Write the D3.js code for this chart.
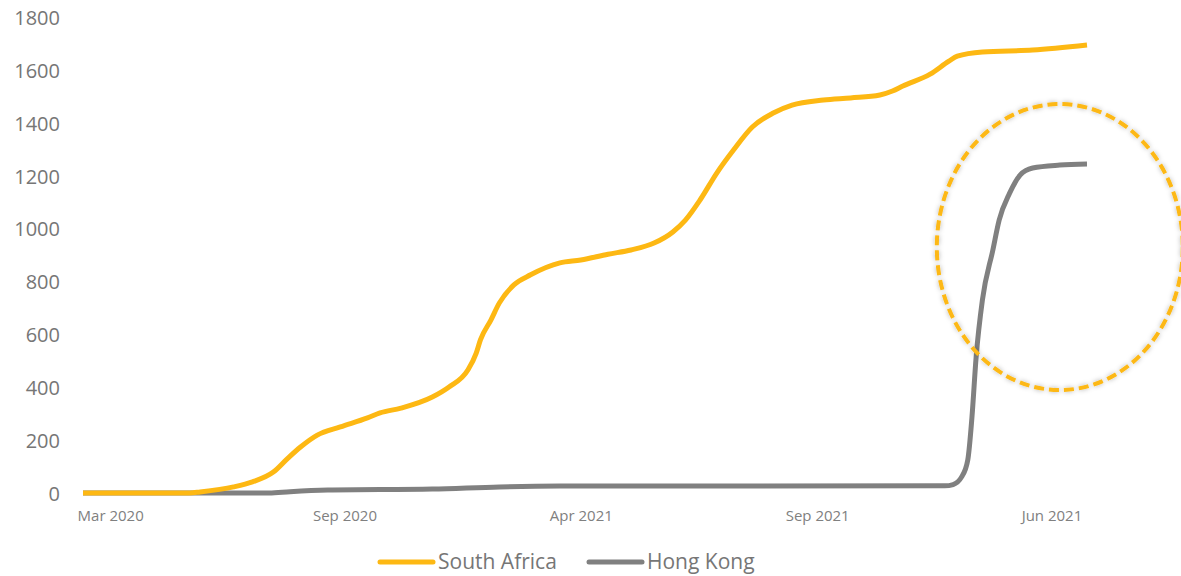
<!DOCTYPE html>
<html>
<head>
<meta charset="utf-8">
<script src="https://d3js.org/d3.v7.min.js"></script>
<style>
	body { margin: 0; background: #fff; }
	text { font-family: "Open Sans", sans-serif; fill: #767676; }
</style>
</head>
<body>
<script>
/*day index since start of series (x) and cumulative count (y)*/
var saDays = [0, 51, 56, 72, 81, 91, 98, 104, 112, 123, 136, 142, 152, 167, 175, 184, 188, 190, 195, 199, 206, 214, 228, 238, 251, 262, 273, 282, 288, 295, 303, 311, 320, 330, 339, 354, 367, 381, 387, 392, 405, 414, 418, 430, 454, 480];
var saValues = [0, 0, 4, 23, 42, 79, 132, 174, 219, 250, 284, 303, 321, 363, 401, 465, 529, 579, 654, 718, 787, 825, 870, 881, 903, 919, 945, 987, 1032, 1108, 1210, 1297, 1384, 1437, 1467, 1486, 1494, 1505, 1520, 1539, 1584, 1633, 1652, 1668, 1675, 1694];

var hkDays = [0, 89, 99, 117, 167, 199, 228, 412, 416, 420, 423, 425, 427, 430, 435, 438, 443, 448, 454, 467, 480];
var hkValues = [0, 0, 5, 11, 15, 23, 26, 27, 32, 60, 125, 287, 514, 730, 919, 1032, 1134, 1202, 1229, 1240, 1244];

/*x tick labels and their day positions (labels kept as they appear)*/
var tickDays = [13, 125, 238, 351, 463];
var tickLabels = ["Mar 2020", "Sep 2020", "Apr 2021", "Sep 2021", "Jun 2021"];
var yTicks = [0, 200, 400, 600, 800, 1000, 1200, 1400, 1600, 1800];

var seriesNames = ["South Africa", "Hong Kong"];
var seriesColors = ["#FDB813", "#808080"];

var svgWidth = 1181;
var svgHeight = 576;

var svg = d3.select("body")
	.append("svg")
	.attr("width", svgWidth)
	.attr("height", svgHeight);

/*soft shadow for the highlight ellipse*/
var defs = svg.append("defs");
var filter = defs.append("filter")
	.attr("id", "glow")
	.attr("x", "-20%").attr("y", "-20%")
	.attr("width", "140%").attr("height", "140%");
filter.append("feDropShadow")
	.attr("dx", 0)
	.attr("dy", 0)
	.attr("stdDeviation", 2.5)
	.attr("flood-color", "#000")
	.attr("flood-opacity", 0.3);

/*scales*/
var xScale = d3.scaleLinear()
	.domain([0, 480])
	.range([83, 1087]);
var yScale = d3.scaleLinear()
	.domain([0, 1800])
	.range([493, 17]);

/*y axis: labels only*/
var leftAxis = d3.axisLeft(yScale)
	.tickValues(yTicks)
	.tickSize(0)
	.tickPadding(0)
	.tickFormat(d3.format("d"));
var yAxis = svg.append("g")
	.attr("transform", "translate(60,1)")
	.call(leftAxis);
yAxis.select(".domain").remove();
yAxis.selectAll("text")
	.style("font-size", "20px")
	.style("fill", "#767676")
	.style("font-family", "'Open Sans', sans-serif");

/*x axis: labels only*/
var bottomAxis = d3.axisBottom(xScale)
	.tickValues(tickDays)
	.tickSize(0)
	.tickPadding(0)
	.tickFormat(function (d, i) { return tickLabels[i]; });
var xAxis = svg.append("g")
	.attr("transform", "translate(0,510)")
	.call(bottomAxis);
xAxis.select(".domain").remove();
xAxis.selectAll("text")
	.style("font-size", "15px")
	.style("fill", "#808080")
	.style("font-family", "'Open Sans', sans-serif");

/*lines*/
var line = d3.line()
	.x(function (d) { return xScale(d[0]); })
	.y(function (d) { return yScale(d[1]); })
	.curve(d3.curveMonotoneX);

var hkData = d3.zip(hkDays, hkValues);
var saData = d3.zip(saDays, saValues);

svg.append("path")
	.datum(hkData)
	.attr("d", line)
	.attr("fill", "none")
	.attr("stroke", seriesColors[1])
	.attr("stroke-width", 5)
	.attr("stroke-linejoin", "round");

svg.append("path")
	.datum(saData)
	.attr("d", line)
	.attr("fill", "none")
	.attr("stroke", seriesColors[0])
	.attr("stroke-width", 5)
	.attr("stroke-linejoin", "round");

/*dashed highlight ellipse around the Hong Kong jump*/
svg.append("ellipse")
	.attr("cx", xScale(467))
	.attr("cy", yScale(930))
	.attr("rx", 123)
	.attr("ry", 143)
	.attr("fill", "none")
	.attr("stroke", "#FDB813")
	.attr("stroke-width", 4)
	.attr("stroke-dasharray", "10,5")
	.attr("filter", "url(#glow)");

/*legend*/
var legendX = [380, 589];
var legend = svg.append("g");
seriesNames.forEach(function (name, i) {
	legend.append("line")
		.attr("x1", legendX[i])
		.attr("x2", legendX[i] + 53)
		.attr("y1", 562)
		.attr("y2", 562)
		.attr("stroke", seriesColors[i])
		.attr("stroke-width", 5)
		.attr("stroke-linecap", "round");
	legend.append("text")
		.attr("x", legendX[i] + 58)
		.attr("y", 562)
		.attr("dy", "0.35em")
		.style("font-size", "21px")
		.text(name);
});
</script>
</body>
</html>
